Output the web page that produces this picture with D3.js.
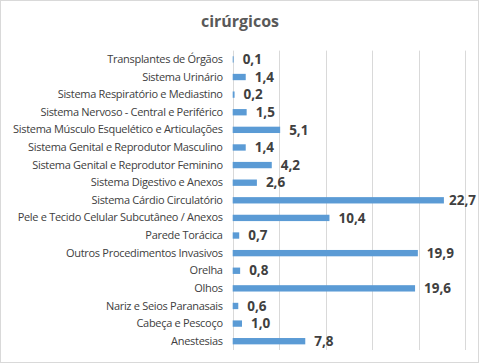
<!DOCTYPE html>
<html><head><meta charset="utf-8">
<script src="https://cdn.jsdelivr.net/npm/d3@7"></script>
<style>body{margin:0;background:#fff}svg{display:block}</style>
</head><body>
<script>
const title = "cirúrgicos";
const categories = [
  "Transplantes de Órgãos",
  "Sistema Urinário",
  "Sistema Respiratório e Mediastino",
  "Sistema Nervoso - Central e Periférico",
  "Sistema Músculo Esquelético e Articulações",
  "Sistema Genital e Reprodutor Masculino",
  "Sistema Genital e Reprodutor Feminino",
  "Sistema Digestivo e Anexos",
  "Sistema Cárdio Circulatório",
  "Pele e Tecido Celular Subcutâneo / Anexos",
  "Parede Torácica",
  "Outros Procedimentos Invasivos",
  "Orelha",
  "Olhos",
  "Nariz e Seios Paranasais",
  "Cabeça e Pescoço",
  "Anestesias"
];
const values = [0.1,1.4,0.2,1.5,5.1,1.4,4.2,2.6,22.7,10.4,0.7,19.9,0.8,19.6,0.6,1.0,7.8];
const gridTicks = [0,5,10,15,20,25];

const W=480,H=364;
const svg=d3.select("body").append("svg").attr("width",W).attr("height",H);
svg.append("rect").attr("x",0.5).attr("y",0.5).attr("width",W-2).attr("height",H-2)
  .attr("fill","#fff").attr("stroke","#d9d9d9");

const x=d3.scaleLinear().domain([0,25]).range([232.7,465.3]);
const y=d3.scaleBand().domain(categories).range([50.6,350]).paddingInner(0.64).paddingOuter(0.32);

svg.append("text").attr("x",240).attr("y",27).attr("text-anchor","middle")
  .attr("font-family","Open Sans, sans-serif").attr("font-weight","bold").attr("font-size",16)
  .attr("fill","#595959").text(title);

const g=svg.append("g");
g.selectAll("line.grid").data(gridTicks).enter().append("line")
  .attr("x1",d=>Math.round(x(d))+0.5).attr("x2",d=>Math.round(x(d))+0.5)
  .attr("y1",50.6).attr("y2",350).attr("stroke","#d9d9d9").attr("stroke-width",1);

g.selectAll("rect.bar").data(values).enter().append("rect")
  .attr("x",x(0)).attr("y",(d,i)=>y(categories[i]))
  .attr("width",d=>x(d)-x(0)).attr("height",y.bandwidth()).attr("fill","#5B9BD5");

const yAxis=d3.axisLeft(y).tickSize(0).tickPadding(10);
const ax=svg.append("g").attr("transform",`translate(${x(0)},0)`).call(yAxis);
ax.select(".domain").remove();
ax.selectAll("text").attr("font-family","Open Sans, sans-serif").attr("font-size",11)
  .attr("fill","#404040").attr("letter-spacing",-0.3);

g.selectAll("text.val").data(values).enter().append("text")
  .attr("font-family","Open Sans, sans-serif").attr("font-weight","bold").attr("font-size",13.5)
  .attr("fill","#404040").attr("dy","0.35em")
  .attr("y",(d,i)=>y(categories[i])+y.bandwidth()/2)
  .text(d=>d3.format(".1f")(d).replace(".",","))
  .each(function(d){
    const w=this.getComputedTextLength();
    let px=x(d)+9;
    if(px+w>476) px=476-w;
    d3.select(this).attr("x",px);
  });
</script>
</body></html>
